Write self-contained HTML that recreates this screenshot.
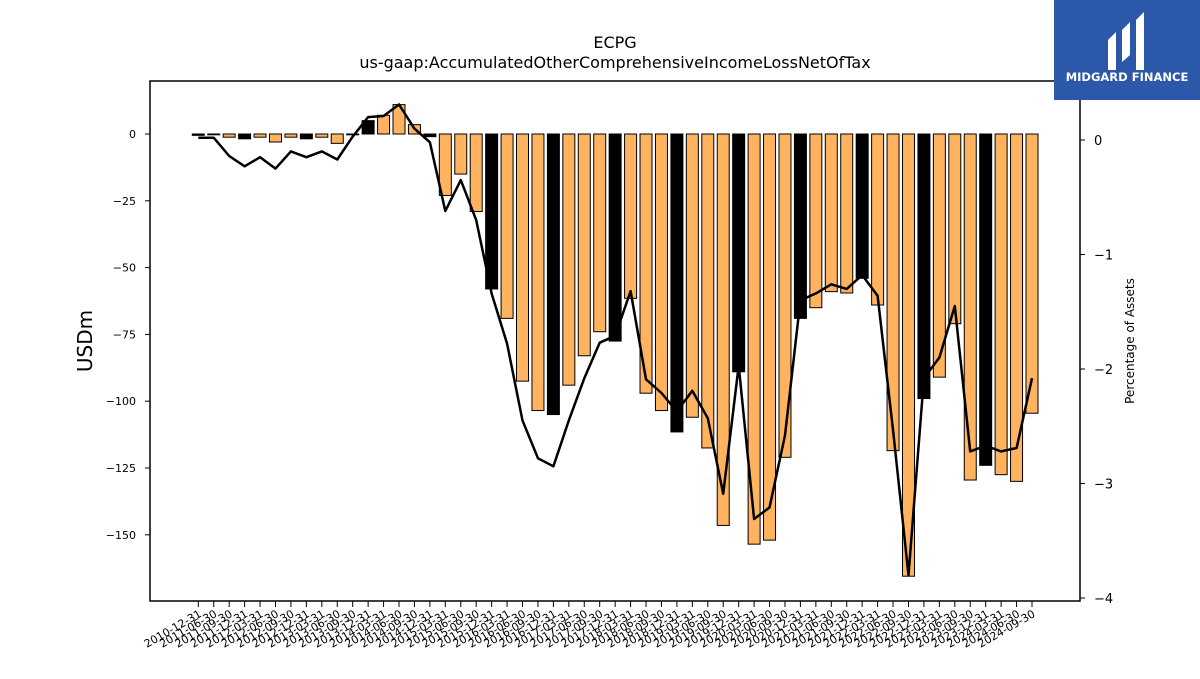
<!DOCTYPE html>
<html><head><meta charset="utf-8"><style>
body{margin:0;background:#fff;font-family:"DejaVu Sans","Liberation Sans",sans-serif;}
svg text{font-family:"DejaVu Sans","Liberation Sans",sans-serif;}
</style></head><body>
<svg id="chart" width="1200" height="675" xmlns="http://www.w3.org/2000/svg">
<rect width="1200" height="675" fill="#fff"/>
<text x="615" y="48" font-size="16" text-anchor="middle">ECPG</text>
<text x="615" y="68" font-size="16" text-anchor="middle">us-gaap:AccumulatedOtherComprehensiveIncomeLossNetOfTax</text>
<g id="bars"></g>
<g id="line"></g>
<rect x="150" y="81" width="930" height="520" fill="none" stroke="#000" stroke-width="1.5"/>
<g id="yl"></g>
<g id="yr"></g>
<g id="xa"></g>
<text transform="translate(92,341) rotate(-90)" font-size="20" text-anchor="middle">USDm</text>
<text transform="translate(1134,341) rotate(-90)" font-size="12" text-anchor="middle">Percentage of Assets</text>
<g>
<rect x="1054" y="0" width="146" height="100" fill="#2b58a8"/>
<path d="M1108 70 L1108 40 L1116 32 L1116 70 Z M1122 62 L1122 30 L1130 22 L1130 55 Z M1136 70 L1136 20 L1144 12 L1144 70 Z" fill="#fff"/>
<text x="1127" y="81" font-size="11.5" font-weight="bold" fill="#fff" text-anchor="middle">MIDGARD FINANCE</text>
</g>
</svg>
<script>
const dates=["2010-12-31","2011-06-30","2011-09-30","2011-12-31","2012-03-31","2012-06-30","2012-09-30","2012-12-31","2013-03-31","2013-06-30","2013-09-30","2013-12-31","2014-03-31","2014-06-30","2014-09-30","2014-12-31","2015-03-31","2015-06-30","2015-09-30","2015-12-31","2016-03-31","2016-06-30","2016-09-30","2016-12-31","2017-03-31","2017-06-30","2017-09-30","2017-12-31","2018-03-31","2018-06-30","2018-09-30","2018-12-31","2019-03-31","2019-06-30","2019-09-30","2019-12-31","2020-03-31","2020-06-30","2020-09-30","2020-12-31","2021-03-31","2021-06-30","2021-09-30","2021-12-31","2022-03-31","2022-06-30","2022-09-30","2022-12-31","2023-03-31","2023-06-30","2023-09-30","2023-12-31","2024-03-31","2024-06-30","2024-09-30"];
const usdm=[-0.5,-0.3,-1.2,-1.8,-1.2,-3,-1.2,-1.8,-1.2,-3.5,-0.3,5,7,11,3.5,-1,-23,-15,-29,-58,-69,-92.5,-103.5,-105,-94,-83,-74,-77.5,-61.5,-97,-103.5,-111.5,-106,-117.5,-146.5,-89,-153.5,-152,-121,-69,-65,-59,-59.5,-54,-64,-118.5,-165.5,-99,-91,-71,-129.5,-124,-127.5,-130,-104.5];
const pct=[0.02,0.02,-0.14,-0.23,-0.15,-0.25,-0.10,-0.15,-0.10,-0.17,0.03,0.20,0.21,0.31,0.10,-0.02,-0.62,-0.35,-0.70,-1.34,-1.78,-2.45,-2.78,-2.85,-2.45,-2.08,-1.77,-1.71,-1.32,-2.09,-2.21,-2.37,-2.19,-2.43,-3.09,-1.97,-3.31,-3.21,-2.58,-1.40,-1.34,-1.26,-1.30,-1.18,-1.36,-2.53,-3.80,-2.08,-1.90,-1.45,-2.72,-2.67,-2.72,-2.69,-2.08];
const leftTicks=[0,-25,-50,-75,-100,-125,-150];
const rightTicks=[0,-1,-2,-3,-4];
const NS="http://www.w3.org/2000/svg";
const xS=i=>198.3+i*(833.7/(dates.length-1));
const yL=v=>134-v*2.672;
const yR=v=>140-v*114.5;
function mk(t,a,p){const e=document.createElementNS(NS,t);for(const k in a)e.setAttribute(k,a[k]);p.appendChild(e);return e;}
const bars=document.getElementById('bars');
usdm.forEach((v,i)=>{
 const black=dates[i].endsWith("12-31");
 const y0=yL(0),y1=yL(v);
 const r=mk('rect',{x:xS(i)-6,y:Math.min(y0,y1),width:12,height:Math.max(Math.abs(y1-y0),0.8),fill:black?'#000':'#ffb35f',stroke:'#000','stroke-width':1},bars);
 
 
});
const pts=pct.map((v,i)=>xS(i).toFixed(1)+','+yR(v).toFixed(1)).join(' ');
const pl=mk('polyline',{points:pts,fill:'none',stroke:'#000','stroke-width':2.5,'stroke-linejoin':'round'},document.getElementById('line'));


const yl=document.getElementById('yl');
leftTicks.forEach(v=>{
 mk('line',{x1:145,x2:150,y1:yL(v),y2:yL(v),stroke:'#000'},yl);
 const t=mk('text',{x:136,y:yL(v)+4,'font-size':11,'text-anchor':'end'},yl);
 t.textContent=v===0?'0':'\u2212'+Math.abs(v);
 
 
});
const yr=document.getElementById('yr');
rightTicks.forEach(v=>{
 mk('line',{x1:1080,x2:1085,y1:yR(v),y2:yR(v),stroke:'#000'},yr);
 const t=mk('text',{x:1094,y:yR(v)+5,'font-size':13},yr);
 t.textContent=v===0?'0':'\u2212'+Math.abs(v);
 
 
});
const xa=document.getElementById('xa');
dates.forEach((d,i)=>{
 const x=xS(i);
 mk('line',{x1:x,x2:x,y1:601,y2:607,stroke:'#000'},xa);
 const t=mk('text',{transform:`translate(${x+4},${616}) rotate(-30)`,'font-size':11,'text-anchor':'end'},xa);
 t.textContent=d;
 
 
});
</script>
</body></html>
